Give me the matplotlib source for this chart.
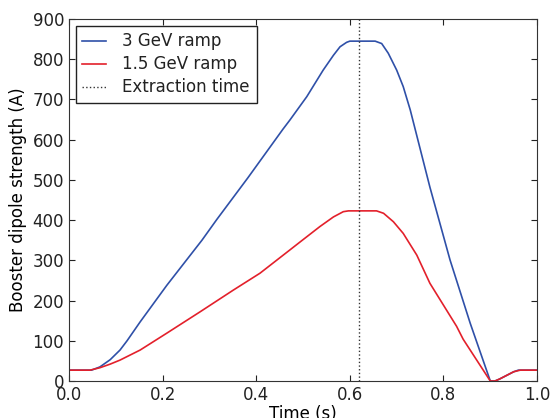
import numpy as np
import matplotlib
matplotlib.use('Agg')
import matplotlib.pyplot as plt

# Booster dipole current during the ramp
t_3gev = [0.0, 0.048, 0.066, 0.088, 0.109, 0.124, 0.152, 0.209, 0.284, 0.316,
          0.382, 0.457, 0.472, 0.508, 0.543, 0.565, 0.579, 0.593, 0.60, 0.654,
          0.668, 0.682, 0.70, 0.714, 0.729, 0.75, 0.771, 0.814, 0.857, 0.90,
          0.91, 0.92, 0.935, 0.95, 0.96, 1.0]
i_3gev = [27, 27, 35, 53, 77, 100, 147, 238, 350, 402,
          505, 626, 649, 707, 773, 810, 831, 842, 845, 845,
          839, 815, 773, 732, 674, 578, 482, 301, 144, 0,
          0, 5, 14, 23, 27, 27]

t_1p5gev = [0.0, 0.045, 0.066, 0.088, 0.109, 0.152, 0.209, 0.28, 0.351, 0.408,
            0.472, 0.494, 0.536, 0.565, 0.586, 0.597, 0.657, 0.672, 0.693, 0.714,
            0.743, 0.771, 0.828, 0.842, 0.90, 0.91, 0.92, 0.935, 0.95, 0.964,
            1.0]
i_1p5gev = [27, 27, 33, 42, 52, 77, 119, 172, 226, 268,
            326, 346, 384, 408, 421, 423, 423, 417, 396, 367,
            313, 243, 136, 104, 0, 0, 5, 14, 23, 27,
            27]

t_extract = 0.62   # extraction time (s)

# Old-style look: ticks pointing in on all sides
plt.rcParams['xtick.direction'] = 'in'
plt.rcParams['ytick.direction'] = 'in'
plt.rcParams['xtick.top'] = True
plt.rcParams['ytick.right'] = True
plt.rcParams['xtick.major.size'] = 4
plt.rcParams['ytick.major.size'] = 4
plt.rcParams['font.size'] = 12
plt.rcParams['text.color'] = '#222222'
plt.rcParams['axes.edgecolor'] = '#333333'
plt.rcParams['xtick.color'] = '#222222'
plt.rcParams['ytick.color'] = '#222222'

fig = plt.figure(figsize=(5.52, 4.18), dpi=100)
ax = plt.gca()
plt.subplots_adjust(left=0.125, right=0.973, bottom=0.0885, top=0.9545)

ax.plot(t_3gev, i_3gev, color='#2f50a8', linewidth=1.2, label='3 GeV ramp')
ax.plot(t_1p5gev, i_1p5gev, color='#e3202b', linewidth=1.2, label='1.5 GeV ramp')
ax.axvline(t_extract, color='#333333', linestyle=':', linewidth=1.0,
           label='Extraction time')

ax.set_xlim(0, 1.0)
ax.set_ylim(0, 900)
ax.set_xticks(np.arange(0, 1.01, 0.2))
ax.set_yticks(np.arange(0, 901, 100))
ax.xaxis.set_major_formatter(matplotlib.ticker.FormatStrFormatter('%.1f'))

ax.set_xlabel('Time (s)', labelpad=1)
ax.set_ylabel('Booster dipole strength (A)', labelpad=4)

leg = ax.legend(loc='upper left', fancybox=False, handlelength=1.4,
                handletextpad=1.0, labelspacing=0.3,
                borderaxespad=0.4, framealpha=1.0)
leg.get_frame().set_edgecolor('#222222')
leg.get_frame().set_linewidth(1.0)

plt.savefig('out.png', dpi=100)
